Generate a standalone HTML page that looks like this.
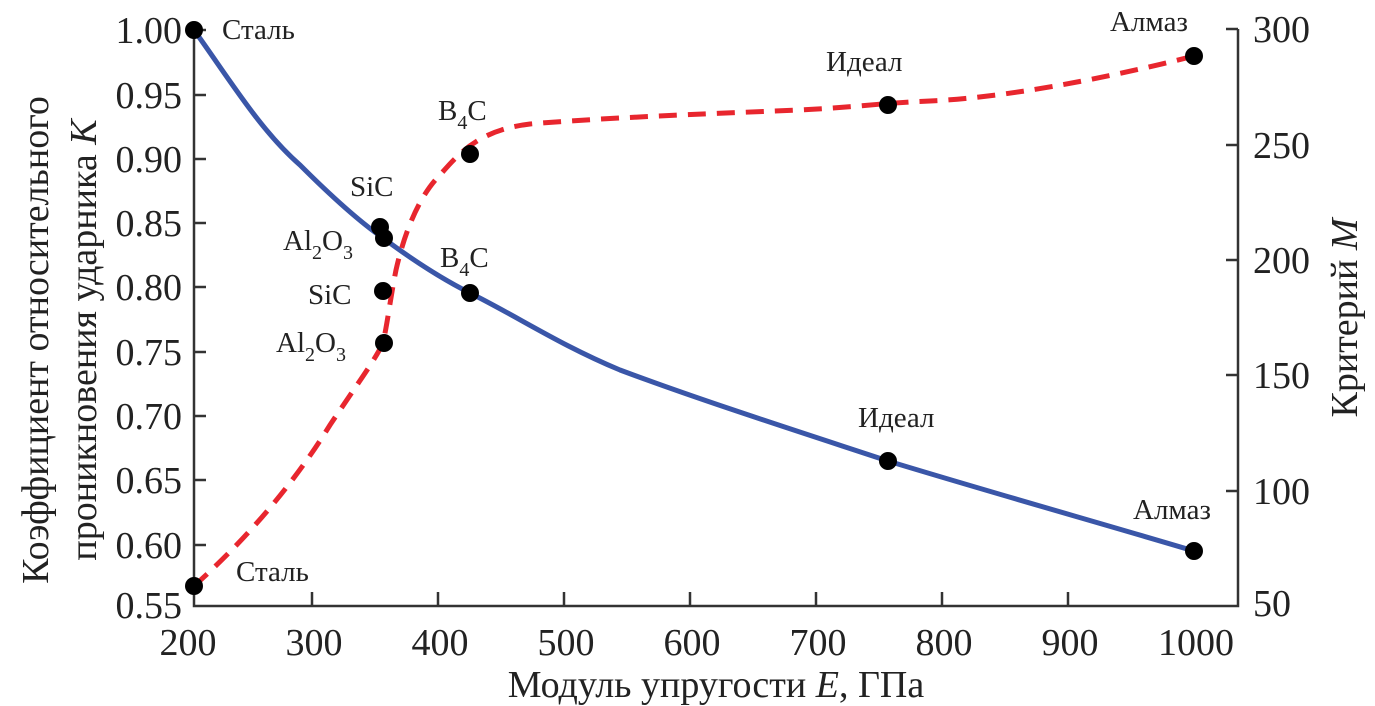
<!DOCTYPE html>
<html><head><meta charset="utf-8"><style>body{margin:0;background:#fff}svg{display:block}</style></head><body>
<svg width="1375" height="706" xmlns="http://www.w3.org/2000/svg" font-family="Liberation Serif, serif" fill="#222">
<g stroke="#333" stroke-width="2.5" fill="none">
<path d="M194 30 V606 H1238 V29"/>
<path d="M194 30h12M194 95h12M194 159h12M194 223h12M194 287h12M194 352h12M194 416h12M194 480h12M194 545h12"/>
<path d="M1238 29h-12M1238 145h-12M1238 260h-12M1238 375h-12M1238 491h-12"/>
<path d="M312 606v-14M438 606v-14M564 606v-14M690 606v-14M816 606v-14M942 606v-14M1068 606v-14"/>
</g>
<path d="M194 30 C230 80,260 130,300 165 C330 195,360 222,383 238 C410 258,440 278,470 293 C520 318,560 345,620 370 C700 400,800 432,888 461 C1000 495,1100 523,1194 551" stroke="#3a56a8" stroke-width="5" fill="none"/>
<path d="M194 586 C240 545,290 490,330 425 C360 380,375 360,383 343 C388 320,390 300,396 270 C405 230,420 195,440 175 C460 152,480 130,530 124 C600 118,700 114,800 110 C860 107,880 103,930 101 C1000 98,1100 80,1194 56" stroke="#e8262e" stroke-width="5" stroke-dasharray="18,11" fill="none"/>
<g fill="#000">
<circle cx="194" cy="30" r="9"/><circle cx="380" cy="227" r="9"/><circle cx="384" cy="238" r="9"/><circle cx="470" cy="293" r="9"/><circle cx="888" cy="461" r="9"/><circle cx="1194" cy="551" r="9"/>
<circle cx="194" cy="586" r="9"/><circle cx="384" cy="343" r="9"/><circle cx="383" cy="291" r="9"/><circle cx="470" cy="154" r="9"/><circle cx="888" cy="105" r="9"/><circle cx="1194" cy="56" r="9"/>
</g>
<g font-size="29">
<text x="222" y="39">Сталь</text>
<text x="236" y="581">Сталь</text>
<text x="350" y="196">SiC</text>
<text x="283" y="250">Al<tspan font-size="20" dy="9">2</tspan><tspan dy="-9">O</tspan><tspan font-size="20" dy="9">3</tspan></text>
<text x="308" y="304">SiC</text>
<text x="276" y="352">Al<tspan font-size="20" dy="9">2</tspan><tspan dy="-9">O</tspan><tspan font-size="20" dy="9">3</tspan></text>
<text x="438" y="120">B<tspan font-size="20" dy="9">4</tspan><tspan dy="-9">C</tspan></text>
<text x="440" y="267">B<tspan font-size="20" dy="9">4</tspan><tspan dy="-9">C</tspan></text>
<text x="826" y="71">Идеал</text>
<text x="858" y="427">Идеал</text>
<text x="1110" y="31">Алмаз</text>
<text x="1133" y="519">Алмаз</text>
</g>
<g font-size="38" text-anchor="end">
<text x="182" y="43">1.00</text><text x="182" y="108">0.95</text><text x="182" y="172">0.90</text><text x="182" y="236">0.85</text><text x="182" y="300">0.80</text><text x="182" y="365">0.75</text><text x="182" y="429">0.70</text><text x="182" y="493">0.65</text><text x="182" y="558">0.60</text><text x="182" y="618">0.55</text>
</g>
<g font-size="38">
<text x="1253" y="42">300</text><text x="1253" y="158">250</text><text x="1253" y="273">200</text><text x="1253" y="388">150</text><text x="1253" y="504">100</text><text x="1253" y="616">50</text>
</g>
<g font-size="38" text-anchor="middle">
<text x="188" y="655">200</text><text x="314" y="655">300</text><text x="440" y="655">400</text><text x="566" y="655">500</text><text x="692" y="655">600</text><text x="818" y="655">700</text><text x="944" y="655">800</text><text x="1070" y="655">900</text><text x="1196" y="655">1000</text>
<text x="716" y="697">Модуль упругости <tspan font-style="italic">E</tspan>, ГПа</text>
<text transform="translate(48 340) rotate(-90)">Коэффициент относительного</text>
<text transform="translate(96 340) rotate(-90)">проникновения ударника <tspan font-style="italic">K</tspan></text>
<text transform="translate(1357 318) rotate(-90)">Критерий <tspan font-style="italic">M</tspan></text>
</g>
</svg>
</body></html>
